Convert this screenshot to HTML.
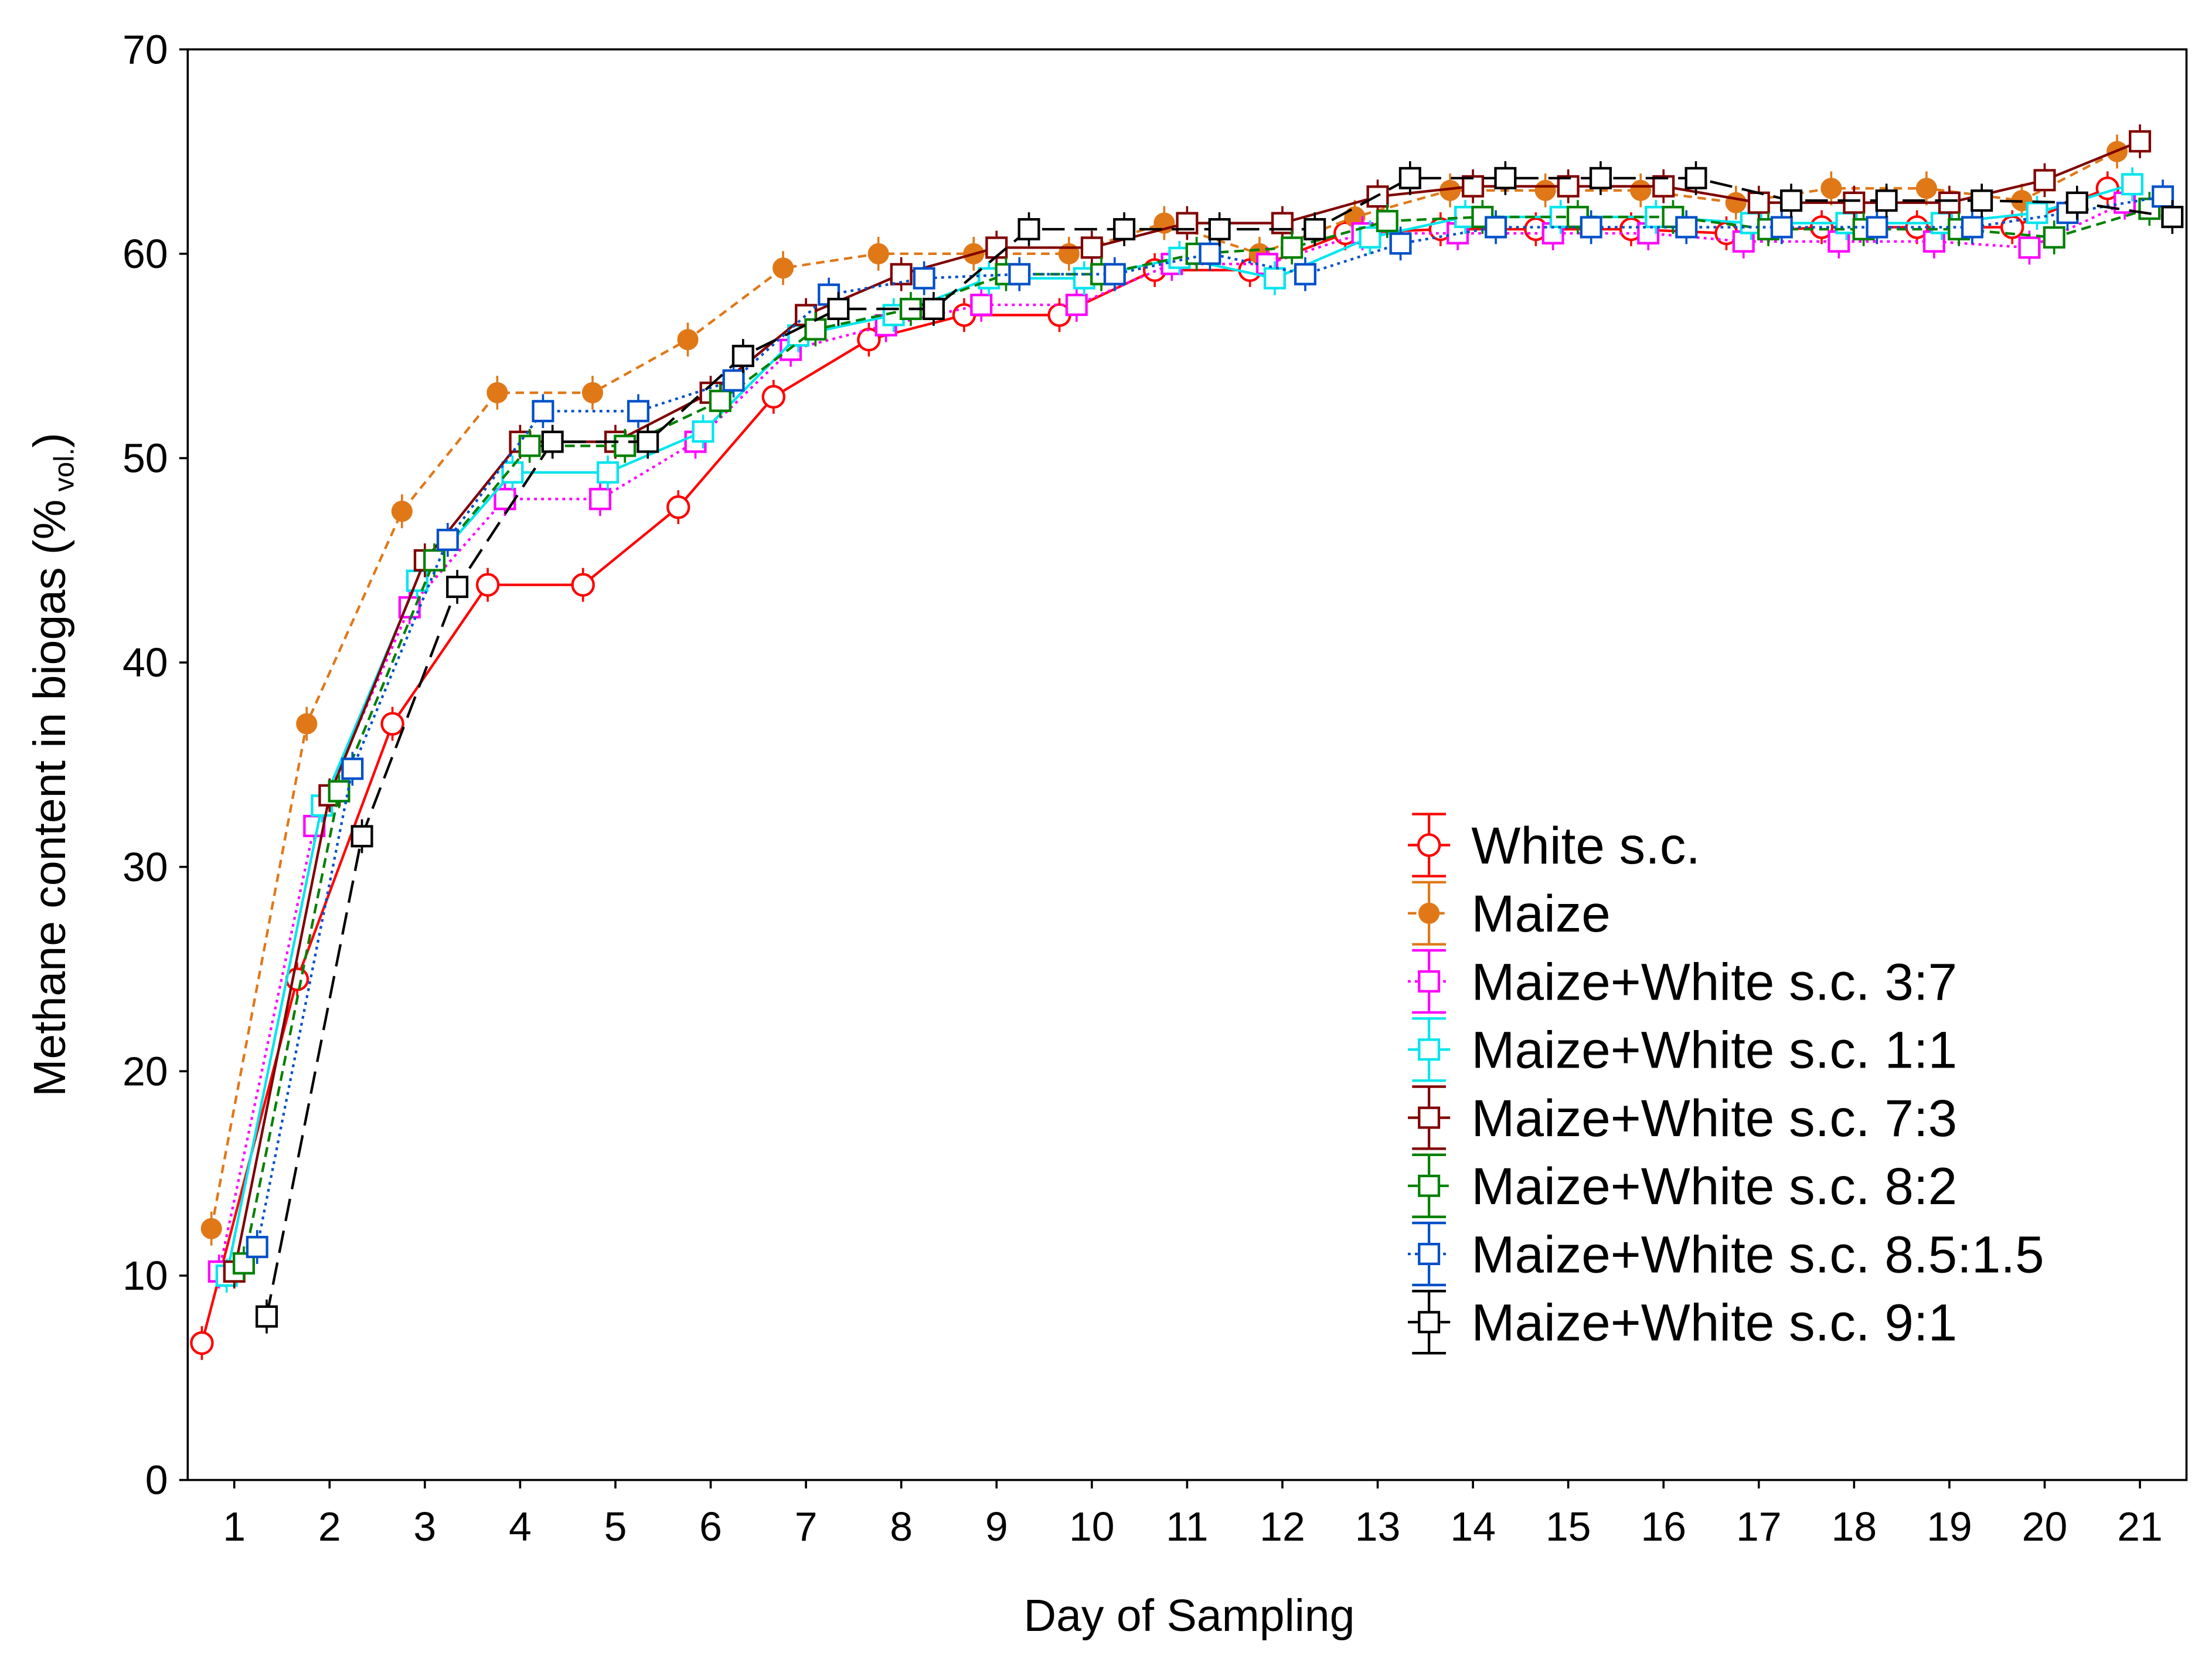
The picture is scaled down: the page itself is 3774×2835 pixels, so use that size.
<!DOCTYPE html>
<html><head><meta charset="utf-8">
<style>html,body{margin:0;padding:0;background:#fff;}svg{display:block;}</style>
</head><body>
<svg id="chart" width="3774" height="2835" viewBox="0 0 1568 1178" xmlns="http://www.w3.org/2000/svg" font-family="Liberation Sans, Arial, sans-serif">
<rect x="0" y="0" width="1568" height="1178" fill="#fff"/>
<g id="plot"></g>
</svg>
<script>
const days=[1,2,3,4,5,6,7,8,9,10,11,12,13,14,15,16,17,18,19,20,21];
const yTicks=[0,10,20,30,40,50,60,70];
const seriesNames=["White s.c.","Maize","Maize+White s.c. 3:7","Maize+White s.c. 1:1","Maize+White s.c. 7:3","Maize+White s.c. 8:2","Maize+White s.c. 8.5:1.5","Maize+White s.c. 9:1"];
const whiteSC=[6.7,24.5,37,43.8,43.8,47.6,53,55.8,57,57,59.2,59.2,61,61.2,61.2,61.2,61,61.3,61.3,61.3,63.2];
const maize=[12.3,37,47.4,53.2,53.2,55.8,59.3,60,60,60,61.5,60,61.8,63.1,63.1,63.1,62.5,63.2,63.2,62.6,65];
const mix37=[10.2,32,42.7,48,48,50.8,55.3,56.5,57.5,57.5,59.5,59.5,61,61,61,61,60.6,60.6,60.6,60.3,62.5];
const mix11=[10,33,44,49.3,49.3,51.3,56,57,58.8,58.8,59.8,58.8,60.8,61.8,61.8,61.8,61.5,61.5,61.5,62,63.4];
const mix73=[10.2,33.5,45,50.8,50.8,53.2,57,59,60.3,60.3,61.5,61.5,62.8,63.3,63.3,63.3,62.5,62.5,62.5,63.6,65.5];
const mix82=[10.6,33.7,45,50.6,50.6,52.8,56.3,57.3,59,59,60,60.3,61.6,61.8,61.8,61.8,61.2,61.2,61.2,60.8,62.2];
const mix8515=[11.4,34.8,46,52.3,52.3,53.8,58,58.8,59,59,60,59,60.5,61.3,61.3,61.3,61.3,61.3,61.3,62,62.8];
const mix91=[8,31.5,43.7,50.8,50.8,55,57.3,57.3,61.2,61.2,61.2,61.2,63.7,63.7,63.7,63.7,62.6,62.6,62.6,62.5,61.8];
const seriesValues=[whiteSC,maize,mix37,mix11,mix73,mix82,mix8515,mix91];

const NS="http://www.w3.org/2000/svg";
const g=document.getElementById('plot');
const L=133,R=1550,T=35,B=1049;
const xs=d=>166+(d-1)*(1517-166)/20;
const ys=v=>B-(v/70)*(B-T);
function mk(tag,at,parent){const e=document.createElementNS(NS,tag);for(const k in at)e.setAttribute(k,at[k]);(parent||g).appendChild(e);return e;}

const styles=[
 {c:"#ff0000",dash:"",m:"circle",off:-0.34},
 {c:"#e07818",dash:"6 4",m:"dot",off:-0.24},
 {c:"#ff00ff",dash:"2 3",m:"sq",off:-0.16},
 {c:"#00e5ee",dash:"",m:"sq",off:-0.08},
 {c:"#800000",dash:"",m:"sq",off:0},
 {c:"#008000",dash:"7 4",m:"sq",off:0.1},
 {c:"#0050c8",dash:"2 3",m:"sq",off:0.24},
 {c:"#000000",dash:"16 7",m:"sq",off:0.34}
];

const frame=mk('rect',{x:L,y:T,width:R-L,height:B-T,fill:"none",stroke:"#000","stroke-width":1.5});


yTicks.forEach(v=>{
 const t=mk('line',{x1:L-6,x2:L,y1:ys(v),y2:ys(v),stroke:"#000","stroke-width":1.5});
 
 
 const tx=mk('text',{x:L-14,y:ys(v)+10,"text-anchor":"end","font-size":29});
 tx.textContent=v;
 
 
});
days.forEach(d=>{
 const t=mk('line',{x1:xs(d),x2:xs(d),y1:B,y2:B+6,stroke:"#000","stroke-width":1.5});
 
 
 const tx=mk('text',{x:xs(d),y:B+43,"text-anchor":"middle","font-size":29});
 tx.textContent=d;
 
 
});
const xt=mk('text',{x:843,y:1156,"text-anchor":"middle","font-size":32});
xt.textContent="Day of Sampling";


const yt=mk('text',{x:0,y:0,"text-anchor":"middle","font-size":32,transform:"translate(46,542) rotate(-90)"});
yt.innerHTML='Methane content in biogas (%<tspan font-size="20" dy="6"> vol.</tspan><tspan dy="-6">)</tspan>';



function marker(m,x,y,c,parent){
 let e;
 if(m==="circle")e=mk('circle',{cx:x,cy:y,r:7.5,fill:"#fff",stroke:c,"stroke-width":1.8},parent);
 else if(m==="dot")e=mk('circle',{cx:x,cy:y,r:7,fill:c,stroke:c},parent);
 else e=mk('rect',{x:x-7,y:y-7,width:14,height:14,fill:"#fff",stroke:c,"stroke-width":1.8},parent);
 return e;
}

seriesValues.forEach((vals,i)=>{
 const s=styles[i];
 const grp=mk('g',{});
 
 
 const pts=vals.map((v,j)=>[xs(days[j]+s.off),ys(v)]);
 const ln=mk('polyline',{points:pts.map(p=>p.join(',')).join(' '),fill:"none",stroke:s.c,"stroke-width":1.8,"stroke-dasharray":s.dash},grp);
 
 
 pts.forEach(p=>{
  const eb=mk('line',{x1:p[0],x2:p[0],y1:p[1]-12,y2:p[1]+12,stroke:s.c,"stroke-width":1.5},grp);
  
  
  const mm=marker(s.m,p[0],p[1],s.c,grp);
  
  
 });
});

const lg=mk('g',{});


seriesNames.forEach((n,i)=>{
 const s=styles[i];const y=599+i*48.3;
 const eg=mk('g',{},lg);
 
 
 mk('line',{x1:1013,x2:1013,y1:y-22,y2:y+22,stroke:s.c,"stroke-width":1.8},eg);
 mk('line',{x1:1001,x2:1025,y1:y-22,y2:y-22,stroke:s.c,"stroke-width":1.8},eg);
 mk('line',{x1:1001,x2:1025,y1:y+22,y2:y+22,stroke:s.c,"stroke-width":1.8},eg);
 mk('line',{x1:998,x2:1028,y1:y,y2:y,stroke:s.c,"stroke-width":1.8,"stroke-dasharray":s.dash},eg);
 marker(s.m,1013,y,s.c,eg);
 const t=mk('text',{x:1043,y:y+13,"font-size":37},eg);
 t.textContent=n;
});
</script>
</body></html>
